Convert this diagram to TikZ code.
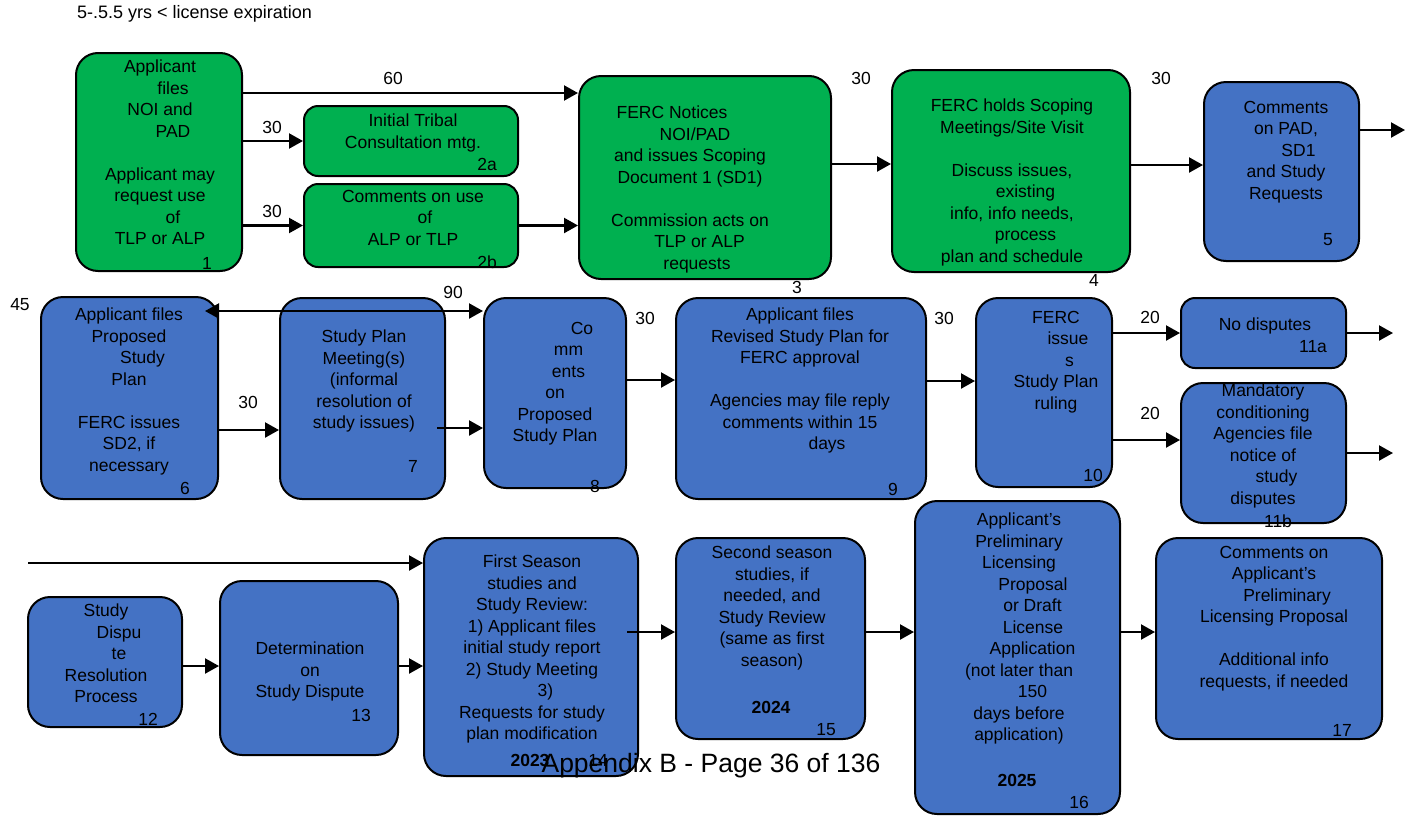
\documentclass[tikz,border=0pt]{standalone}
\usepackage{fontspec}
\setmainfont{Liberation Sans}
\usetikzlibrary{arrows.meta}
\definecolor{grn}{HTML}{00B050}
\definecolor{blu}{HTML}{4472C4}
\newcommand{\mv}[2]{\hspace*{#1pt}#2\hspace*{-#1pt}}

\begin{document}
\begin{tikzpicture}[x=1pt,y=-1pt,font=\fontsize{17.5}{21.5}\selectfont,
	box/.style={draw=black,line width=2pt,rounded corners=22pt,inner sep=0pt},
	gbox/.style={box,fill=grn},
	bbox/.style={box,fill=blu},
	txt/.style={align=center,anchor=north,inner sep=0pt},
	lbl/.style={inner sep=0pt},
	flow/.style={line width=2.2pt,-{Triangle[length=14pt,width=15pt]}}]
	\path[use as bounding box,fill=white] (0,0) rectangle (1412,817);
	\node[lbl,anchor=west] (hd) at (77,14) {\fontsize{18}{21}\selectfont 5-.5.5 yrs < license expiration};

	\node[gbox,minimum width=166,minimum height=218] (b1) at (159,162) {};
	\node[gbox,minimum width=214,minimum height=70,rounded corners=14pt] (b2a) at (411,141) {};
	\node[gbox,minimum width=214,minimum height=83,rounded corners=14pt] (b2b) at (411,225.5) {};
	\node[gbox,minimum width=252,minimum height=203] (b3) at (705,177.5) {};
	\node[gbox,minimum width=238,minimum height=202] (b4) at (1011,171) {};
	\node[bbox,minimum width=155,minimum height=179] (b5) at (1281.5,171.5) {};

	\node[bbox,minimum width=177,minimum height=202] (b6) at (129.5,398) {};
	\node[bbox,minimum width=165,minimum height=201] (b7) at (362.5,398.5) {};
	\node[bbox,minimum width=142,minimum height=190] (b8) at (555,393) {};
	\node[bbox,minimum width=250,minimum height=201] (b9) at (801,398.5) {};
	\node[bbox,minimum width=136,minimum height=189] (b10) at (1044,392.5) {};
	\node[bbox,minimum width=165,minimum height=70,rounded corners=14pt] (b11a) at (1263.5,333) {};
	\node[bbox,minimum width=165,minimum height=140] (b11b) at (1263.5,453) {};

	\node[bbox,minimum width=154,minimum height=130] (b12) at (105,662) {};
	\node[bbox,minimum width=178,minimum height=174] (b13) at (309,668) {};
	\node[bbox,minimum width=214,minimum height=238] (b14) at (531,657) {};
	\node[bbox,minimum width=189,minimum height=201] (b15) at (770.5,638.5) {};
	\node[bbox,minimum width=205,minimum height=313] (b16) at (1017.5,657.5) {};
	\node[bbox,minimum width=226,minimum height=201] (b17) at (1269,638.5) {};

	\coordinate (o5) at (1405,130);
	\coordinate (o11a) at (1393,333);
	\coordinate (o11b) at (1393,453);
	\coordinate (lft) at (28,563);

	\draw[flow] (b1.east |- 0,93) -- (b3.west |- 0,93);
	\draw[flow] (b1.east |- b2a) -- (b2a.west);
	\draw[flow] (b1.east |- b2b) -- (b2b.west);
	\draw[flow] (b2b.east) -- (b3.west |- b2b);
	\draw[flow] (b3.east |- 0,164) -- (b4.west |- 0,164);
	\draw[flow] (b4.east |- 0,165) -- (b5.west |- 0,165);
	\draw[flow] (b5.east |- 0,130) -- (o5);
	\draw[flow,{Triangle[length=14pt,width=15pt]}-{Triangle[length=14pt,width=15pt]}] ([xshift=-14]b6.east |- 0,311) -- (b8.west |- 0,311);
	\draw[flow] (b6.east |- 0,430) -- (b7.west |- 0,430);
	\draw[flow] ([xshift=-9]b7.east |- 0,428) -- (b8.west |- 0,428);
	\draw[flow] (b8.east |- 0,380) -- (b9.west |- 0,380);
	\draw[flow] (b9.east |- 0,381) -- (b10.west |- 0,381);
	\draw[flow] (b10.east |- b11a) -- (b11a.west);
	\draw[flow] (b10.east |- 0,440) -- (b11b.west |- 0,440);
	\draw[flow] (b11a.east) -- (o11a);
	\draw[flow] (b11b.east) -- (o11b);
	\draw[flow] (lft) -- (b14.west |- lft);
	\draw[flow] (b12.east |- 0,666) -- (b13.west |- 0,666);
	\draw[flow] (b13.east |- 0,666) -- (b14.west |- 0,666);
	\draw[flow] ([xshift=-12]b14.east |- 0,632) -- (b15.west |- 0,632);
	\draw[flow] (b15.east |- 0,632) -- (b16.west |- 0,632);
	\draw[flow] (b16.east |- 0,632) -- (b17.west |- 0,632);

	\node[lbl] (d60) at (393,78) {60};
	\node[lbl] (d30a) at (272,127) {30};
	\node[lbl] (d30b) at (272,211) {30};
	\node[lbl] (d30c) at (861,78) {30};
	\node[lbl] (d30d) at (1161,78) {30};
	\node[lbl] (d45) at (20,305) {45};
	\node[lbl] (d90) at (453,292) {90};
	\node[lbl] (d30e) at (248,402) {30};
	\node[lbl] (d30f) at (645,318) {30};
	\node[lbl] (d30g) at (944,318) {30};
	\node[lbl] (d20a) at (1150,317) {20};
	\node[lbl] (d20b) at (1150,413) {20};

	\node[txt] (t1) at (160,60) {Applicant\\\mv{26}{files}\\NOI and\\\mv{26}{PAD}\\[21.5pt]Applicant may\\request use\\\mv{26}{of}\\TLP or ALP};
	\node[txt] (t2a) at (413,114) {Initial Tribal\\Consultation mtg.};
	\node[txt] (t2b) at (413,190) {Comments on use\\\mv{24}{of}\\ALP or TLP};
	\node[txt] (t3) at (690,106) {\mv{-18}{FERC Notices}\\\mv{10}{NOI/PAD}\\and issues Scoping\\Document 1 (SD1)\\[21.5pt]Commission acts on\\\mv{19}{TLP or ALP}\\\mv{7}{requests}};
	\node[txt] (t4) at (1012,99) {FERC holds Scoping\\Meetings/Site Visit\\[21.5pt]Discuss issues,\\\mv{27}{existing}\\info, info needs,\\\mv{27}{process}\\plan and schedule};
	\node[txt] (t5) at (1286,101) {Comments\\on PAD,\\\mv{25}{SD1}\\and Study\\Requests};
	\node[txt] (t6) at (129,308) {Applicant files\\Proposed\\\mv{27}{Study}\\Plan\\[21.5pt]FERC issues\\SD2, if\\necessary};
	\node[txt] (t7) at (364,330) {Study Plan\\Meeting(s)\\(informal\\resolution of\\study issues)};
	\node[txt] (t8) at (555,322) {\mv{27}{Co}\\\mv{27}{mm}\\\mv{27}{ents}\\on\\Proposed\\Study Plan};
	\node[txt] (t9) at (800,308) {Applicant files\\Revised Study Plan for\\FERC approval\\[21.5pt]Agencies may file reply\\comments within 15\\\mv{27}{days}};
	\node[txt] (t10) at (1056,311) {FERC\\\mv{24}{issue}\\\mv{27}{s}\\Study Plan\\ruling};
	\node[txt] (t11a) at (1265,318) {No disputes};
	\node[txt] (t11b) at (1263,384) {Mandatory\\conditioning\\Agencies file\\notice of\\\mv{27}{study}\\disputes};
	\node[txt] (t12) at (106,604) {Study\\\mv{26}{Dispu}\\\mv{26}{te}\\Resolution\\Process};
	\node[txt] (t13) at (310,642) {Determination\\on\\Study Dispute};
	\node[txt] (t14) at (532,555) {First Season\\studies and\\Study Review:\\1) Applicant files\\initial study report\\2) Study Meeting\\\mv{27}{3)}\\Requests for study\\plan modification};
	\node[txt] (t15) at (772,546) {Second season\\studies, if\\needed, and\\Study Review\\(same as first\\season)};
	\node[txt] (t16) at (1019,513) {Applicant’s\\Preliminary\\Licensing\\\mv{28}{Proposal}\\\mv{27}{or Draft}\\\mv{28}{License}\\\mv{27}{Application}\\(not later than\\\mv{27}{150}\\days before\\application)};
	\node[txt] (t17) at (1274,546) {Comments on\\Applicant’s\\\mv{26}{Preliminary}\\Licensing Proposal\\[21.5pt]Additional info\\requests, if needed};

	\node[lbl] (n1) at (207,263) {1};
	\node[lbl] (n2a) at (487,164) {2a};
	\node[lbl] (n2b) at (487,262) {2b};
	\node[lbl] (n3) at (797,287) {3};
	\node[lbl] (n4) at (1094,280) {4};
	\node[lbl] (n5) at (1328,240) {5};
	\node[lbl] (n6) at (185,488) {6};
	\node[lbl] (n7) at (413,466) {7};
	\node[lbl] (n8) at (595,486) {8};
	\node[lbl] (n9) at (893,489) {9};
	\node[lbl] (n10) at (1093,475) {10};
	\node[lbl] (n11a) at (1313,347) {11a};
	\node[lbl] (n11b) at (1278,521) {11b};
	\node[lbl] (n12) at (148,719) {12};
	\node[lbl] (n13) at (361,715) {13};
	\node[lbl] (n14) at (598,760) {14};
	\node[lbl] (n15) at (826,730) {15};
	\node[lbl] (n16) at (1079,802) {16};
	\node[lbl] (n17) at (1342,730) {17};
	\node[lbl,font=\fontsize{17.5}{21.5}\selectfont\bfseries] (y23) at (530,760) {2023};
	\node[lbl,font=\fontsize{17.5}{21.5}\selectfont\bfseries] (y24) at (771,707) {2024};
	\node[lbl,font=\fontsize{17.5}{21.5}\selectfont\bfseries] (y25) at (1017,780) {2025};

	\node[lbl] (pg) at (711,766) {\fontsize{26.5}{30}\selectfont Appendix B - Page 36 of 136};
\end{tikzpicture}
\end{document}
